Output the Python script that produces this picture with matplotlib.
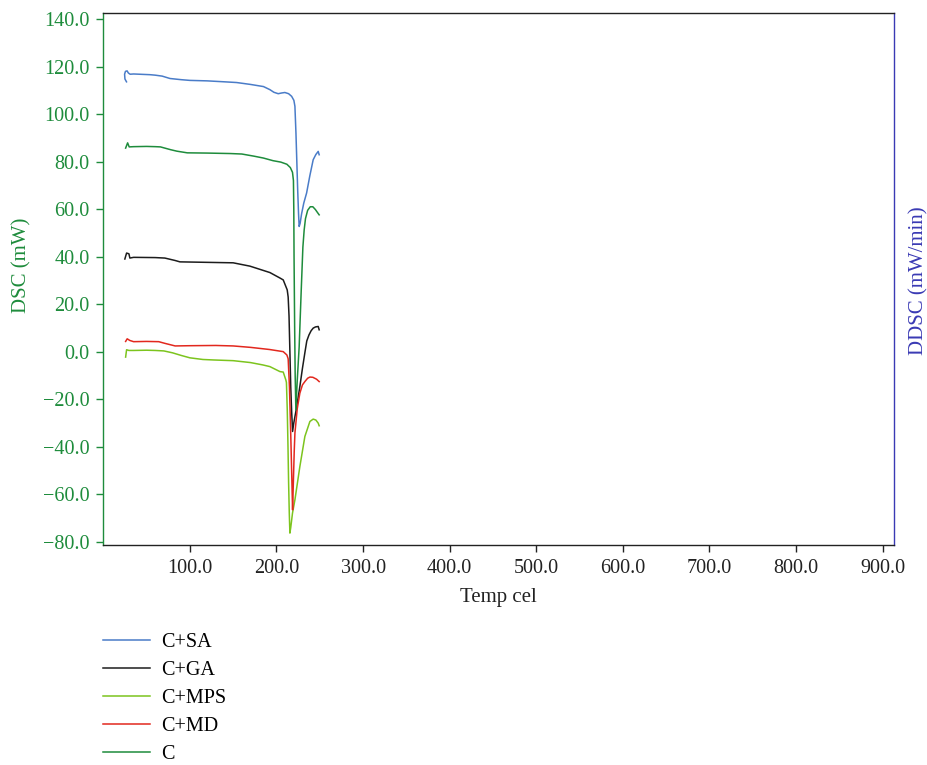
import matplotlib
matplotlib.use("Agg")
import matplotlib.pyplot as plt

# ---------------- data ----------------
sa_t = [26.8, 25.0, 24.6, 25.6, 27.5, 29.0, 31.0, 35, 54, 60, 68, 77, 90, 100, 120, 140, 154,
        170, 185, 192.4, 197, 202, 206, 209.7, 214, 217.5, 220.1, 221.3, 222.5, 223.5, 224.5,
        225.5, 226.2, 227.3, 229, 231.5, 234.8, 238.5, 242.4, 245.5, 248.2, 249.3]
sa_v = [113.6, 114.8, 116.8, 118.0, 118.2, 117.3, 116.8, 116.9, 116.6, 116.4, 116.0, 115.0,
        114.5, 114.2, 114.0, 113.6, 113.3, 112.5, 111.6, 110.3, 109.2, 108.6, 108.9, 109.1,
        108.6, 107.5, 105.8, 103.3, 92, 80, 68, 58, 52.7, 54, 58, 62.5, 66.8, 74, 80.8, 83.0,
        84.3, 82.9]

ga_t = [24.9, 26.9, 29.6, 30.7, 35, 60, 71.1, 82.7, 88.5, 150, 169.3, 192.4, 204, 207.8, 212.4,
        213.5, 214.5, 215.5, 216.5, 217.5, 218.6, 220, 223, 227, 230, 233, 235, 237.5, 240,
        242.4, 245, 248.2, 249.3]
ga_v = [39.0, 41.5, 41.2, 39.4, 39.7, 39.6, 39.4, 38.4, 37.8, 37.4, 36.0, 33.3, 31.0, 30.2, 26.0,
        23, 15, 0, -15, -25, -33.6, -30, -24, -14.7, -7, 0, 4.5, 7, 8.8, 9.9, 10.4, 10.6, 9.2]

mps_t = [25.8, 26.9, 29.6, 35, 50, 60, 70, 80, 90, 100, 115, 127, 150, 170, 184.3, 192.4, 204,
         207.8, 210.9, 211.5, 212.5, 213.3, 214, 214.8, 215.5, 216.5, 218.5, 221.3, 227,
         232.8, 238.6, 242.4, 245.5, 248.2, 249.3]
mps_v = [-2.3, 0.8, 0.5, 0.5, 0.6, 0.5, 0.3, -0.5, -1.6, -2.6, -3.3, -3.5, -3.8, -4.6, -5.6,
         -6.3, -8.4, -8.6, -12, -13, -25, -40, -55, -68, -76.4, -74, -68, -62.4, -48.4, -35.7,
         -29.4, -28.4, -28.8, -30.1, -31.2]

md_t = [25.8, 27.6, 30.7, 35, 50, 64, 71, 83, 100, 130, 150, 170, 192, 207.8, 212, 213.5, 215,
        216.5, 217.5, 218.6, 219.5, 220.5, 221.3, 224, 227, 230, 232.8, 236, 238.6, 242,
        246.3, 249.3]
md_v = [4.3, 5.4, 4.7, 4.2, 4.3, 4.2, 3.5, 2.4, 2.5, 2.6, 2.4, 1.8, 0.9, 0.0, -1.4, -3, -15,
        -35, -50, -66.6, -55, -42, -34.3, -24, -17.5, -14, -12.6, -11.2, -10.7, -10.8,
        -11.6, -12.6]

c_t = [25.8, 28.1, 29.9, 35, 50, 60, 66, 72, 78, 85, 97, 120, 147, 160, 174, 185, 196, 205,
       212, 216, 218.5, 219.6, 220.0, 220.3, 221.0, 221.6, 222.4, 224, 226.2, 228.5, 230.5,
       232, 233.5, 236, 239, 242, 245, 247.5, 249.3]
c_v = [85.7, 87.9, 86.2, 86.3, 86.4, 86.3, 86.2, 85.6, 85.0, 84.4, 83.7, 83.6, 83.4, 83.2,
       82.3, 81.5, 80.4, 79.8, 78.9, 77.5, 75.5, 72, 60, 40, 10, -10, -24.5, -12, 2, 25, 44,
       51.3, 56, 59.5, 61, 61, 59.8, 58.5, 57.6]

labels = ["C+SA", "C+GA", "C+MPS", "C+MD", "C"]
colors = ["#4a7cc8", "#1c1c1c", "#7cc41e", "#e2281e", "#1e8c3c"]
series = [(sa_t, sa_v), (ga_t, ga_v), (mps_t, mps_v), (md_t, md_v), (c_t, c_v)]

x_ticks = [100, 200, 300, 400, 500, 600, 700, 800, 900]
y_ticks = [-80, -60, -40, -20, 0, 20, 40, 60, 80, 100, 120, 140]

AX_GREEN = "#1e8c3c"
AX_BLUE = "#3a3ab4"

# ---------------- figure ----------------
plt.rcParams['font.family'] = ['Liberation Serif', 'DejaVu Serif']
fig = plt.figure(figsize=(9.28, 7.65), dpi=100)
ax = fig.add_axes([0.1113, 0.2876, 0.9637 - 0.1113, 0.9834 - 0.2876])

handles = []
for (t, v), lab, col in zip(series, labels, colors):
    h, = ax.plot(t, v, color=col, lw=1.1, label=lab)
    handles.append(h)

ax.set_xlim(0, 913.5)
ax.set_ylim(-81.4, 142.7)
ax.set_xticks(x_ticks)
ax.set_yticks(y_ticks)
ax.set_xticklabels([f"{v:.1f}" for v in x_ticks])
ax.set_yticklabels([f"{v:.1f}".replace("-", "\u2212") for v in y_ticks])

ax.tick_params(axis='x', direction='out', length=5, width=1, colors='#222222',
               labelsize=14.5, pad=5)
ax.tick_params(axis='y', direction='out', length=5, width=1, colors=AX_GREEN,
               labelsize=14.5, pad=5)

for side in ['top', 'bottom']:
    ax.spines[side].set_color('#222222')
ax.spines['left'].set_color(AX_GREEN)
ax.spines['right'].set_color(AX_BLUE)
for s in ax.spines.values():
    s.set_linewidth(1.0)

ax.set_xlabel("Temp cel", fontsize=15, color='#222222', labelpad=7)
ax.set_ylabel("DSC (mW)", fontsize=15, color=AX_GREEN)
ax.yaxis.set_label_coords(-0.091, 0.526)

ax2 = ax.twinx()
ax2.set_yticks([])
ax2.set_ylim(ax.get_ylim())
for s in ax2.spines.values():
    s.set_visible(False)
ax2.set_ylabel("DDSC (mW/min)", fontsize=15, color=AX_BLUE)
ax2.yaxis.set_label_coords(1.0185, 0.497)

fig.legend(handles=handles, labels=labels, loc='upper left',
           bbox_to_anchor=(0.111, 0.173), frameon=False, fontsize=14.5,
           handlelength=2.35, handletextpad=0.55, labelspacing=0.44,
           borderpad=0, borderaxespad=0)

fig.savefig("out.png", dpi=100)
